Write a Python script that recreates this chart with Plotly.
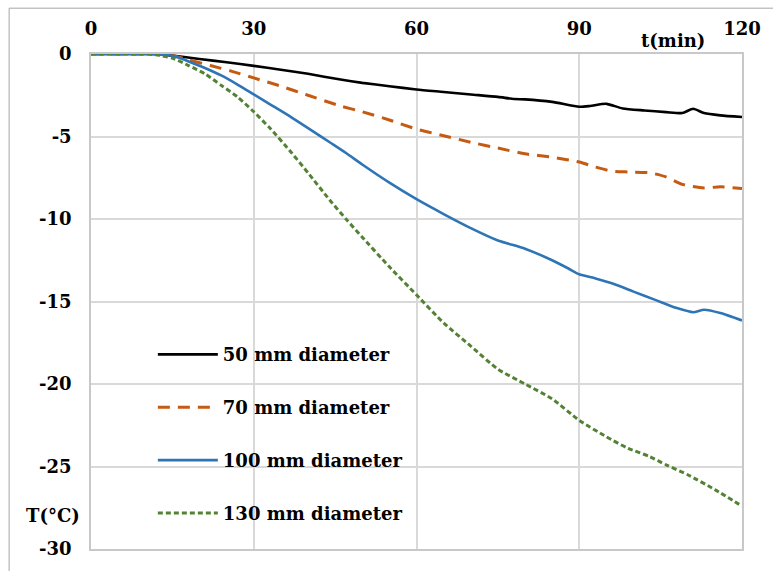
import plotly.graph_objects as go

# Time (min) and temperature (°C) for each bar diameter
t_50 = [0, 5, 10, 12, 15, 20, 25, 30, 35, 40, 46, 50, 55, 60, 65, 70, 75, 78, 80, 85, 90, 92, 95, 98, 102, 106, 109, 111, 113, 116, 120]
T_50 = [0, 0, 0, 0, -0.1, -0.3, -0.5, -0.72, -0.95, -1.2, -1.55, -1.75, -1.95, -2.15, -2.3, -2.45, -2.6, -2.73, -2.75, -2.9, -3.2, -3.15, -3.02, -3.3, -3.42, -3.52, -3.58, -3.32, -3.58, -3.72, -3.82]

t_70 = [0, 5, 10, 12, 15, 18, 22, 26, 30, 35, 40, 46, 50, 55, 60, 65, 70, 75, 80, 85, 90, 93, 96, 99, 103, 106, 109, 113, 116, 120]
T_70 = [0, 0, 0, 0, -0.1, -0.35, -0.7, -1.05, -1.45, -1.95, -2.5, -3.15, -3.5, -4.0, -4.55, -4.95, -5.35, -5.7, -6.05, -6.25, -6.55, -6.85, -7.1, -7.15, -7.2, -7.45, -7.9, -8.12, -8.05, -8.15]

t_100 = [0, 5, 10, 12, 14, 16, 18, 21, 24, 27, 30, 33, 37, 41, 44, 47, 50, 55, 60, 65, 70, 75, 80, 85, 88, 90, 93, 96, 100, 104, 108, 111, 113, 116, 120]
T_100 = [0, 0, 0, 0, -0.05, -0.2, -0.45, -0.85, -1.3, -1.85, -2.45, -3.05, -3.85, -4.7, -5.35, -6.0, -6.7, -7.8, -8.8, -9.7, -10.55, -11.3, -11.8, -12.5, -13.0, -13.35, -13.6, -13.9, -14.4, -14.9, -15.4, -15.65, -15.5, -15.7, -16.15]

t_130 = [0, 5, 10, 12, 15, 18, 21, 24, 27, 30, 33, 37, 40, 44, 47, 50, 55, 60, 65, 70, 75, 80, 85, 90, 95, 99, 103, 106, 110, 115, 120]
T_130 = [0, 0, 0, -0.05, -0.25, -0.7, -1.2, -1.9, -2.6, -3.5, -4.5, -6.0, -7.2, -8.85, -10.0, -11.1, -12.9, -14.6, -16.3, -17.7, -19.1, -20.0, -20.9, -22.2, -23.2, -23.9, -24.4, -24.9, -25.5, -26.4, -27.4]

series_names = ["50 mm diameter", "70 mm diameter", "100 mm diameter", "130 mm diameter"]
x_ticks = [0, 30, 60, 90, 120]
x_tick_text = ["0", "30", "60", "90", "120"]
y_ticks = [0, -5, -10, -15, -20, -25, -30]
y_tick_text = ["0", "-5", "-10", "-15", "-20", "-25", "-30"]


def bold(s):
    return f"<b>{s}</b>"


FONT = dict(family="DejaVu Serif", size=18, color="#000000")

styles = [
    dict(color="#000000", width=2.6, dash="solid"),
    dict(color="#C55A11", width=3, dash="12px,8px"),
    dict(color="#2E75B6", width=2.6, dash="solid"),
    dict(color="#548235", width=3, dash="5px,3px"),
]

fig = go.Figure()
for i, (tx, ty) in enumerate([(t_50, T_50), (t_70, T_70), (t_100, T_100), (t_130, T_130)]):
    fig.add_trace(go.Scatter(
        x=tx, y=ty, mode="lines", name=bold(series_names[i]),
        line=dict(shape="spline", smoothing=0.6, **styles[i]),
        legendgroup=f"g{i}",
    ))

W, H = 773, 571
L, R, T, B = 91, 30, 54, 20
pw, ph = W - L - R, H - T - B


def px_to_paper(px, py):
    return (px - L) / pw, (H - B - py) / ph


fig.update_layout(
    width=W, height=H,
    margin=dict(l=L, r=R, t=T, b=B),
    paper_bgcolor="white", plot_bgcolor="white",
    font=FONT,
    showlegend=True,
    legend=dict(
        x=0.095, y=0.43, xanchor="left", yanchor="top",
        bgcolor="rgba(0,0,0,0)", font=FONT,
        itemwidth=60, tracegroupgap=26.5,
    ),
    xaxis=dict(
        side="top", range=[0, 120], tickvals=x_ticks, ticktext=[bold(s) for s in x_tick_text],
        showgrid=True, gridcolor="#D9D9D9", gridwidth=1.5,
        showline=True, linecolor="#C8C8C8", linewidth=1.5, mirror=True,
        ticks="", ticklabelstandoff=10, tickfont=FONT, zeroline=False,
    ),
    yaxis=dict(
        range=[-30, 0], tickvals=y_ticks, ticktext=[bold(s) for s in y_tick_text],
        showgrid=True, gridcolor="#D9D9D9", gridwidth=1.5,
        showline=True, linecolor="#C8C8C8", linewidth=1.5, mirror=True,
        ticks="", ticklabelstandoff=14, tickfont=FONT, zeroline=False,
    ),
)

# Axis-title labels placed inside the frame
ax, ay = px_to_paper(674, 40)
bx, by = px_to_paper(53, 517)
fig.add_annotation(text=bold("t(min)"), x=ax, y=ay, xref="paper", yref="paper",
                   xanchor="center", yanchor="middle", showarrow=False, font=FONT)
fig.add_annotation(text=bold("T(°C)"), x=bx, y=by, xref="paper", yref="paper",
                   xanchor="center", yanchor="middle", showarrow=False, font=FONT)

# Outer chart frame
fx0, fy0 = px_to_paper(9, 8)
fx1, fy1 = px_to_paper(800, 600)
fig.add_shape(type="rect", xref="paper", yref="paper", x0=fx0, y0=fy1, x1=fx1, y1=fy0,
              line=dict(color="#A6A6A6", width=1), layer="below")

fig.write_html("out.html")
